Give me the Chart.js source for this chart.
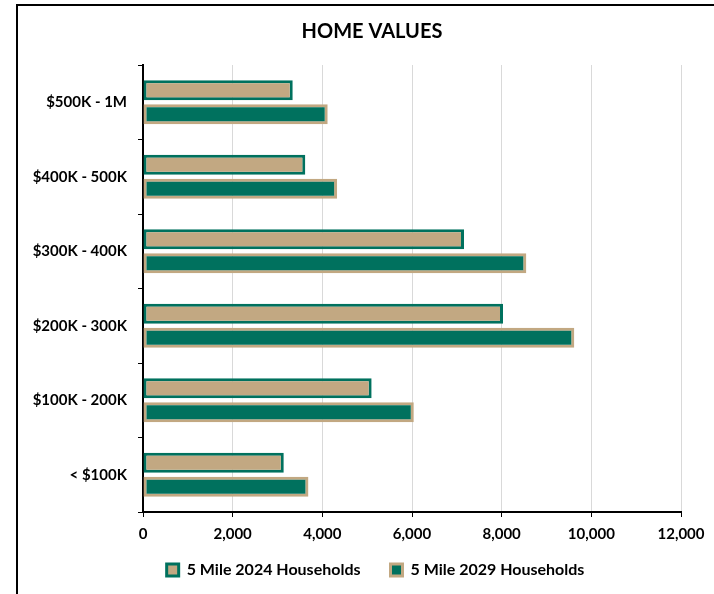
<!DOCTYPE html>
<html>
<head>
<meta charset="utf-8">
<script src="https://cdn.jsdelivr.net/npm/chart.js@4"></script>
<style>
  body { margin: 0; background: #fff; }
  #wrap { position: relative; width: 714px; height: 594px; }
  #frame { position: absolute; left: 16px; top: 4px; right: -4px; bottom: -4px; border-left: 2px solid #000; border-top: 2px solid #000; pointer-events: none; }
</style>
</head>
<body>
<div id="wrap">
  <canvas id="homeChart" width="714" height="594"></canvas>
  <div id="frame"></div>
</div>
<script>
// rangos de valor, de arriba hacia abajo
const categorias = ['$500K - 1M', '$400K - 500K', '$300K - 400K', '$200K - 300K', '$100K - 200K', '< $100K'];
const hogares2024 = [3340, 3620, 7160, 8030, 5100, 3140];
const hogares2029 = [4120, 4330, 8550, 9620, 6040, 3690];
const ticksX = [0, 2000, 4000, 6000, 8000, 10000, 12000];
const titulo = 'HOME VALUES';

const verde = '#00715E';
const tostado = '#C2A882';
const fuente = 'Lato, "Open Sans", sans-serif';

// titulo dibujado a mano, un poco a la izquierda del centro
const tituloPlugin = {
  id: 'tituloPlugin',
  afterLayout(chart) {
    // corre la leyenda a la derecha
    const lg = chart.legend;
    if (lg) { lg.left += 26; lg.right += 26; }
    // deja espacio para que no se corten los numeros del eje x
    chart.scales.x.bottom += 16;
  },
  afterDraw(chart) {
    const c = chart.ctx;
    c.save();
    c.font = 'bold 20px ' + fuente;
    c.fillStyle = '#000';
    c.textAlign = 'center';
    c.textBaseline = 'middle';
    c.fillText(titulo, 372, 32);
    c.restore();
  }
};

const ctx = document.getElementById('homeChart').getContext('2d');
new Chart(ctx, {
  type: 'bar',
  data: {
    labels: categorias,
    datasets: [
      {
        label: '5 Mile 2024 Households',
        data: hogares2024,
        backgroundColor: tostado,
        borderColor: verde,
        borderWidth: 3,
        borderSkipped: false,
        categoryPercentage: 0.64,
        barPercentage: 0.84
      },
      {
        label: '5 Mile 2029 Households',
        data: hogares2029,
        backgroundColor: verde,
        borderColor: tostado,
        borderWidth: 3,
        borderSkipped: false,
        categoryPercentage: 0.64,
        barPercentage: 0.84
      }
    ]
  },
  plugins: [tituloPlugin],
  options: {
    indexAxis: 'y',
    responsive: false,
    animation: false,
    devicePixelRatio: 1,
    layout: { padding: { left: 18, right: 33, top: 65, bottom: 6 } },
    plugins: {
      title: { display: false },
      legend: {
        position: 'bottom',
        labels: {
          color: '#000',
          font: { family: fuente, size: 16, weight: 'bold' },
          boxWidth: 12,
          boxHeight: 12,
          padding: 30
        }
      },
      tooltip: { enabled: false }
    },
    scales: {
      x: {
        min: 0,
        max: 12000,
        afterBuildTicks: (scale) => { scale.ticks = ticksX.map(v => ({ value: v })); },
        afterFit: (scale) => { scale.height = 20; },
        grid: { color: '#d9d9d9', tickColor: '#000', tickLength: 5, lineWidth: 1 },
        border: { color: '#000', width: 2 },
        ticks: {
          color: '#000',
          padding: 8,
          font: { family: fuente, size: 15, weight: 'bold' },
          callback: (v) => v.toLocaleString('en-US')
        }
      },
      y: {
        afterFit: (scale) => { scale.width = 125; },
        grid: { drawOnChartArea: false, tickColor: '#000', tickLength: 5, offset: true },
        border: { color: '#000', width: 2 },
        ticks: {
          color: '#000',
          padding: 11,
          font: { family: fuente, size: 15, weight: 'bold' }
        }
      }
    }
  }
});
</script>
</body>
</html>
